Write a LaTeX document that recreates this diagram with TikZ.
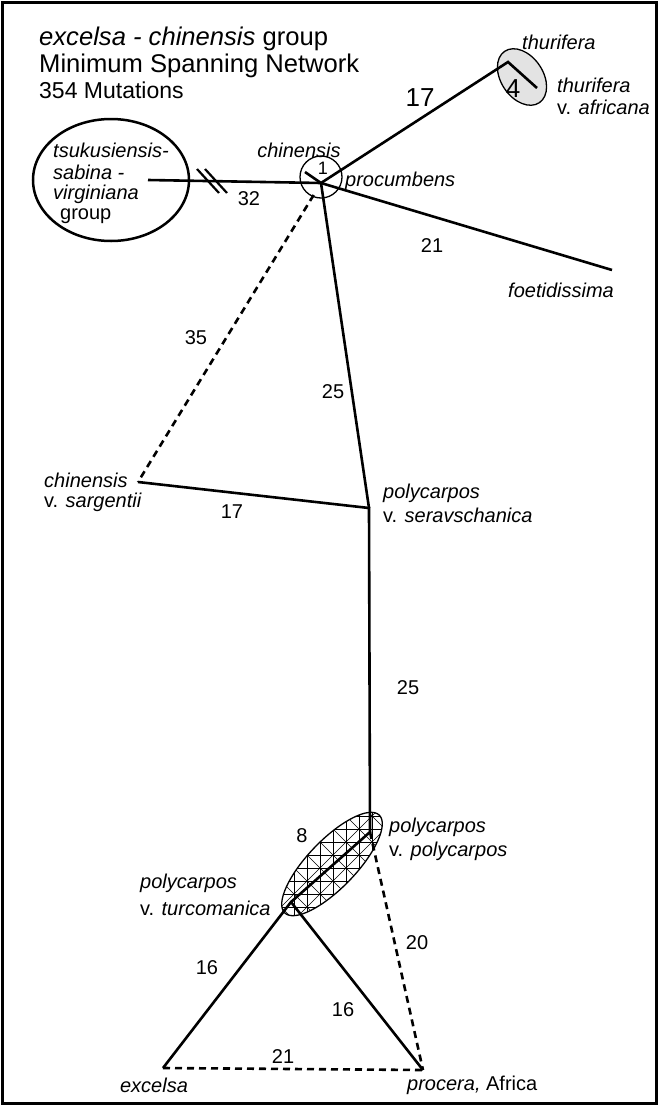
\documentclass[tikz,border=0pt]{standalone}
\usepackage{fontspec}
\setmainfont{Liberation Sans}
\usetikzlibrary{calc}
\begin{document}
\begin{tikzpicture}[x=1pt,y=-1pt,
  lbl/.style={font=\fontsize{20}{22}\selectfont\itshape,inner sep=0pt},
  num/.style={font=\fontsize{20}{22}\selectfont,inner sep=0pt},
  bignum/.style={font=\fontsize{26}{28}\selectfont,inner sep=0pt},
  edge/.style={line width=2.6pt},
  dedge/.style={line width=2.6pt,dash pattern=on 7pt off 5pt},
  meshline/.style={line width=0.6pt},
  outline/.style={line width=1.3pt}]
\useasboundingbox (0,0) rectangle (659,1106);
\draw[line width=3pt] (2.5,2.5) rectangle (656.5,1103.5);

% title
\node[anchor=base west,inner sep=0pt,font=\fontsize{25.6}{28}\selectfont] (t1) at (39,45) {\textit{excelsa - chinensis} group};
\node[anchor=base west,inner sep=0pt,font=\fontsize{25.6}{28}\selectfont] (t2) at (39,72) {Minimum Spanning Network};
\node[anchor=base west,inner sep=0pt,font=\fontsize{23}{26}\selectfont] (t3) at (39,98) {354 Mutations};

% points
\coordinate (C) at (321,183);
\coordinate (Ctick) at (305,172);
\coordinate (TS) at (148,180);
\coordinate (P) at (508,62);
\coordinate (Q) at (537,88);
\coordinate (F) at (612,270);
\coordinate (S) at (138,482);
\coordinate (J1) at (369,508);
\coordinate (V) at (370,832);
\coordinate (T) at (291,902);
\coordinate (E) at (163,1068);
\coordinate (Pr) at (423,1070);
\coordinate (s1a) at (197,169);
\coordinate (s1b) at (219,193);
\coordinate (s2a) at (205,169);
\coordinate (s2b) at (227,193);

% group ellipses
\draw[line width=2.5pt] (111,180) ellipse [x radius=78pt, y radius=61pt];
\draw[outline,fill=gray!22,rotate around={-56:(522,77)}] (522,77) ellipse [x radius=31pt, y radius=21pt];
\node[circle,draw,outline,minimum size=42pt,inner sep=0pt] (cc) at (321,177) {};

% hatched ellipse (triangulated mesh)
\begin{scope}
  \clip[rotate around={46:(332,864)}] (332,864) ellipse [x radius=68pt, y radius=24pt];
  \foreach \x in {255,268,...,400} \draw[meshline] (\x,780) -- (\x,950);
  \foreach \y in {790,803,...,944} \draw[meshline] (240,\y) -- (420,\y);
  \foreach \m in {1,3,...,21} \draw[meshline] (200,{845+13*\m}) -- (460,{585+13*\m});
  \foreach \k in {-11,-9,...,11} \draw[meshline] (200,{735-13*\k}) -- (460,{995-13*\k});
\end{scope}
\draw[outline,rotate around={46:(332,864)}] (332,864) ellipse [x radius=68pt, y radius=24pt];

% connectors
\draw[edge] (TS) -- (C);
\draw[line width=2.2pt] (s1a) -- (s1b);
\draw[line width=2.2pt] (s2a) -- (s2b);
\draw[edge] (Ctick) -- (C);
\draw[edge] (C) -- (P) -- (Q);
\draw[edge] (C) -- (F);
\draw[edge] (C) -- (J1);
\draw[dedge] ($(C)!0.04!(S)$) -- (S);
\draw[edge] (S) -- (J1) -- (V) -- (T) -- (E);
\draw[edge] (T) -- (Pr);
\draw[dedge] (V) -- (Pr);
\draw[dedge] (E) -- (Pr);

% labels
\node[lbl,anchor=west] (ts1) at (53,150) {tsukusiensis-};
\node[lbl,anchor=west] (ts2) at (53,172) {sabina -};
\node[lbl,anchor=west] (ts3) at (53,194) {virginiana};
\node[num,anchor=west] (ts4) at (60,216) {group};
\node[lbl] (lchin) at (299,150) {chinensis};
\node[font=\fontsize{18}{20}\selectfont,inner sep=0pt] (lone) at (323,168) {1};
\node[lbl,anchor=west] (lproc) at (345,181) {procumbens};
\node[bignum] (n17a) at (420,98) {17};
\node[lbl,anchor=west] (lthu1) at (522,42) {thurifera};
\node[bignum] (nfour) at (513,89) {4};
\node[lbl,anchor=west] (lthu2) at (557,85) {thurifera};
\node[num,anchor=west] (lthu3) at (557,107) {v. \textit{africana}};
\node[num] (n32) at (249,199) {32};
\node[num] (n21a) at (432,246) {21};
\node[lbl,anchor=east] (lfoe) at (614,290) {foetidissima};
\node[num] (n35) at (196,338) {35};
\node[num] (n25a) at (333,392) {25};
\node[lbl,anchor=west] (lsar1) at (44,480) {chinensis};
\node[num,anchor=west] (lsar2) at (44,502) {v. \textit{sargentii}};
\node[num] (n17b) at (232,512) {17};
\node[lbl,anchor=west] (lser1) at (383,493) {polycarpos};
\node[num,anchor=west] (lser2) at (383,515) {v. \textit{seravschanica}};
\node[num] (n25b) at (408,688) {25};
\node[num] (n8) at (302,836) {8};
\node[lbl,anchor=west] (lpp1) at (389,827) {polycarpos};
\node[num,anchor=west] (lpp2) at (389,851) {v. \textit{polycarpos}};
\node[lbl,anchor=west] (ltu1) at (140,883) {polycarpos};
\node[num,anchor=west] (ltu2) at (140,908) {v. \textit{turcomanica}};
\node[num] (n16a) at (207,968) {16};
\node[num] (n16b) at (343,1010) {16};
\node[num] (n20) at (417,943) {20};
\node[num] (n21b) at (283,1057) {21};
\node[lbl] (lexc) at (154,1085) {excelsa};
\node[num,anchor=west] (lpro) at (407,1085) {\textit{procera,} Africa};
\end{tikzpicture}
\end{document}
